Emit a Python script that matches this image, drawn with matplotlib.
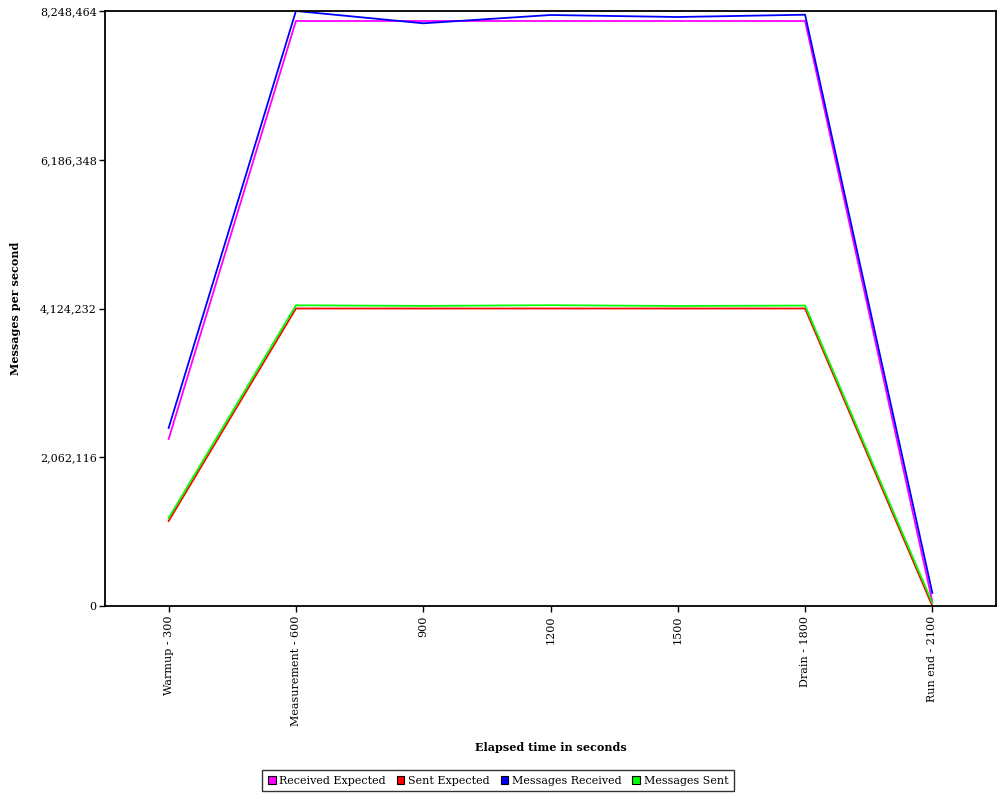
import matplotlib
matplotlib.use("Agg")
import matplotlib.pyplot as plt
from matplotlib.patches import Patch
from matplotlib.ticker import FuncFormatter

plt.rcParams['font.family'] = ['DejaVu Serif']

# x categories (elapsed time)
categories = ['Warmup - 300', 'Measurement - 600', '900', '1200', '1500',
              'Drain - 1800', 'Run end - 2100']

# series values (messages per second)
received_expected = [2315000, 8110000, 8110000, 8110000, 8110000, 8110000, 60000]
sent_expected = [1178000, 4124232, 4124232, 4124232, 4124232, 4124232, 0]
messages_received = [2467600, 8248464, 8078000, 8193000, 8165000, 8197000, 180000]
messages_sent = [1220000, 4168500, 4160000, 4170000, 4159000, 4165000, 41600]

y_max = 8248464
y_ticks = [0, 2062116, 4124232, 6186348, 8248464]

series = [
    ('Received Expected', received_expected, '#ff00ff'),
    ('Sent Expected', sent_expected, '#ff0000'),
    ('Messages Received', messages_received, '#0000ff'),
    ('Messages Sent', messages_sent, '#00ff00'),
]

fig = plt.figure(figsize=(10, 8), dpi=100)
ax = fig.add_axes([0.105, 0.2425, 0.891, 0.74375])

x = list(range(len(categories)))
for name, vals, col in series:
    ax.plot(x, vals, color=col, lw=1.3)

ax.set_xlim(-0.5, len(categories) - 0.5)
ax.set_ylim(0, y_max)
ax.set_xticks(x)
ax.set_xticklabels(categories, rotation=90, fontsize=8)
ax.set_yticks(y_ticks)
ax.yaxis.set_major_formatter(FuncFormatter(lambda v, p: f'{int(v):,}'))
ax.tick_params(axis='y', labelsize=8, length=4, width=1, pad=2)
ax.tick_params(axis='x', length=4, width=1, pad=3)
for s in ax.spines.values():
    s.set_linewidth(1.3)

ax.set_xlabel('Elapsed time in seconds', fontsize=8, fontweight='bold')
ax.set_ylabel('Messages per second', fontsize=8, fontweight='bold')
ax.xaxis.set_label_coords(0.5, -0.229)
ax.yaxis.set_label_coords(-0.094, 0.5)

handles = [Patch(facecolor=col, edgecolor='black', lw=0.8, label=name)
           for name, vals, col in series]
leg = fig.legend(handles=handles, loc='center', bbox_to_anchor=(0.498, 0.024),
                 ncol=4, fontsize=8, frameon=True, fancybox=False,
                 handlelength=0.7, handleheight=0.7, handletextpad=0.3,
                 columnspacing=1.0, borderpad=0.5, borderaxespad=0)
leg.get_frame().set_edgecolor('black')
leg.get_frame().set_linewidth(1.0)

fig.savefig('out.png', dpi=100)
